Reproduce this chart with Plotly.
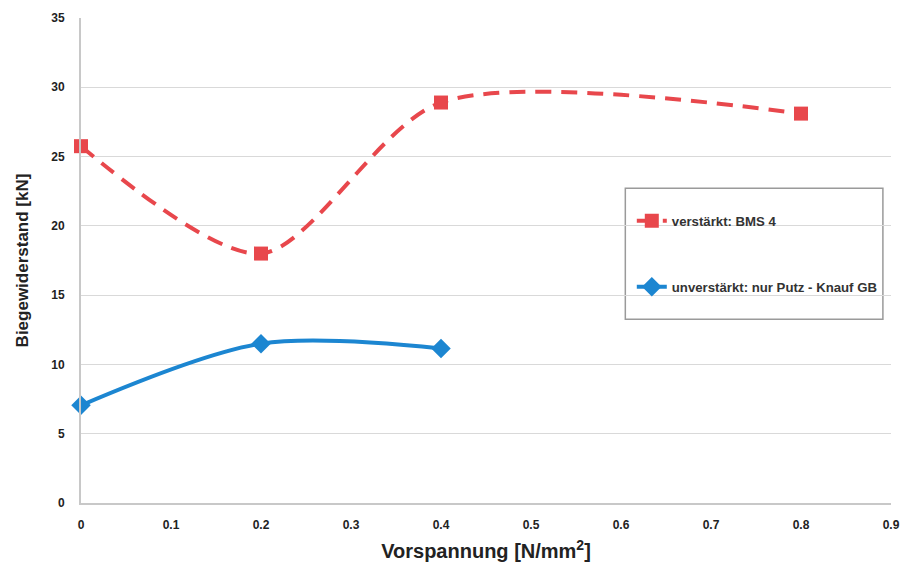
import plotly.graph_objects as go

x_red = [0, 0.2, 0.4, 0.8]
y_red = [25.75, 18.0, 28.9, 28.1]
name_red = "verstärkt: BMS 4"

x_blue = [0, 0.2, 0.4]
y_blue = [7.05, 11.5, 11.15]
name_blue = "unverstärkt: nur Putz - Knauf GB"

x_ticks = [0, 0.1, 0.2, 0.3, 0.4, 0.5, 0.6, 0.7, 0.8, 0.9]
x_ticklabels = ["0", "0.1", "0.2", "0.3", "0.4", "0.5", "0.6", "0.7", "0.8", "0.9"]
y_ticks = [0, 5, 10, 15, 20, 25, 30, 35]

RED = "#E8474C"
BLUE = "#1C86D1"

fig = go.Figure()
fig.add_trace(go.Scatter(
    x=x_red, y=y_red, name=name_red, mode="lines+markers",
    line=dict(color=RED, width=4, dash="16px,10px", shape="spline", smoothing=0.8),
    marker=dict(symbol="square", size=14, color=RED),
    legend="legend", showlegend=True, cliponaxis=False,
))
fig.add_trace(go.Scatter(
    x=x_blue, y=y_blue, name=name_blue, mode="lines+markers",
    line=dict(color=BLUE, width=4, shape="spline", smoothing=0.9),
    marker=dict(symbol="diamond", size=15, color=BLUE),
    legend="legend2", showlegend=True, cliponaxis=False,
))

legend_font = dict(family="Liberation Sans, Arial, sans-serif", size=13.2, color="#333333", weight="bold")
fig.update_layout(
    width=906, height=566,
    margin=dict(l=81, r=15, t=18, b=63),
    showlegend=True,
    plot_bgcolor="white", paper_bgcolor="white",
    font=dict(family="Liberation Sans, Arial, sans-serif", color="#222222"),
    xaxis=dict(
        range=[0, 0.9], tickvals=x_ticks, ticktext=x_ticklabels, automargin=False,
        showgrid=False, zeroline=False, showline=True, linecolor="#c8c8c8", linewidth=2,
        tickfont=dict(size=12, color="#222222", weight="bold"),
        ticklabelstandoff=10,
        title=dict(text="<b>Vorspannung [N/mm<sup>2</sup>]</b>", font=dict(size=20), standoff=13),
    ),
    yaxis=dict(
        range=[0, 35], tickvals=y_ticks, automargin=False,
        showgrid=True, gridcolor="#d9d9d9", gridwidth=1,
        zeroline=False, showline=True, linecolor="#c8c8c8", linewidth=2,
        tickfont=dict(size=12, color="#222222", weight="bold"),
        ticklabelstandoff=12,
        title=dict(text="<b>Biegewiderstand [kN]</b>", font=dict(size=17), standoff=18),
    ),
    legend=dict(x=0.68, y=0.581, xanchor="left", yanchor="middle", visible=True,
                bgcolor="rgba(0,0,0,0)", font=legend_font),
    legend2=dict(x=0.68, y=0.445, xanchor="left", yanchor="middle", visible=True,
                 bgcolor="rgba(0,0,0,0)", font=legend_font),
    shapes=[dict(type="rect", xref="paper", yref="paper",
                 x0=0.672, x1=0.99, y0=0.379, y1=0.649,
                 line=dict(color="#9a9a9a", width=1.5), fillcolor="white", layer="below")],
)

fig.write_html("out.html", config={"displayModeBar": False},
               post_script="document.body.style.margin='0';")
